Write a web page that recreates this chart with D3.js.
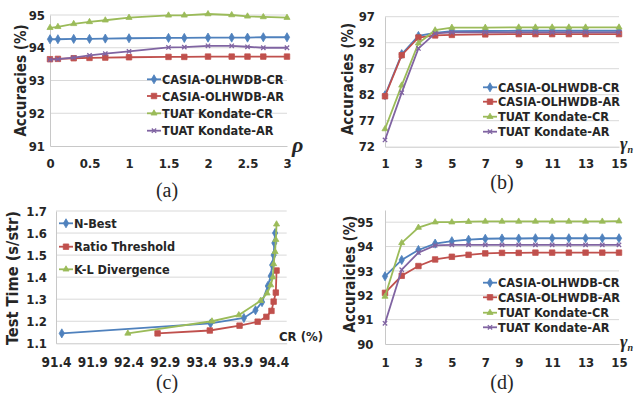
<!DOCTYPE html>
<html>
<head>
<meta charset="utf-8">
<script src="https://cdn.jsdelivr.net/npm/d3@7"></script>
<style>
body { margin: 0; background: #fff; }
svg { display: block; }
text { font-family: "Liberation Sans Narrow", "Arial Narrow", "DejaVu Sans Condensed", sans-serif; font-weight: bold; fill: #262626; }
text.cap { font-family: "Liberation Serif", "Times New Roman", serif; font-weight: normal; }
text.sym { font-family: "Liberation Serif", "Times New Roman", serif; font-style: italic; font-weight: bold; }
</style>
</head>
<body>
<svg width="635" height="393"></svg>
<script>
const seriesNames = ["CASIA-OLHWDB-CR", "CASIA-OLHWDB-AR", "TUAT Kondate-CR", "TUAT Kondate-AR"];

// (a) accuracy vs rho
const rho = [0, 0.1, 0.3, 0.5, 0.7, 1, 1.5, 1.7, 2, 2.3, 2.5, 2.7, 3];
const aCasiaCR = [94.26, 94.26, 94.27, 94.27, 94.28, 94.29, 94.30, 94.30, 94.31, 94.31, 94.31, 94.32, 94.32];
const aCasiaAR = [93.65, 93.66, 93.68, 93.69, 93.70, 93.71, 93.72, 93.72, 93.73, 93.73, 93.73, 93.73, 93.73];
const aTuatCR = [94.61, 94.64, 94.73, 94.79, 94.84, 94.92, 94.99, 94.99, 95.03, 95.00, 94.96, 94.94, 94.92];
const aTuatAR = [93.64, 93.65, 93.70, 93.77, 93.82, 93.89, 94.01, 94.02, 94.06, 94.06, 94.03, 94.00, 94.00];
const aXTicks = [0, 0.5, 1, 1.5, 2, 2.5, 3];
const aYTicks = [91, 92, 93, 94, 95];

// (b) accuracy vs gamma_n
const bX = [1, 2, 3, 4, 5, 7, 9, 10, 11, 12, 13, 15];
const bCasiaCR = [81.9, 89.8, 93.3, 93.9, 94.2, 94.25, 94.3, 94.3, 94.3, 94.3, 94.3, 94.3];
const bCasiaAR = [81.7, 89.6, 93.0, 93.4, 93.5, 93.6, 93.65, 93.65, 93.65, 93.65, 93.65, 93.65];
const bTuatCR = [75.4, 83.8, 91.9, 94.4, 94.9, 94.9, 94.95, 94.95, 94.95, 94.95, 94.95, 94.95];
const bTuatAR = [73.3, 82.4, 90.9, 93.8, 94.0, 94.0, 94.0, 94.0, 94.0, 94.0, 94.0, 94.0];
const gXTicks = [1, 3, 5, 7, 9, 11, 13, 15];
const bYTicks = [72, 77, 82, 87, 92, 97];

// (c) test time vs CR
const nBestCR = [91.48, 93.53, 93.99, 94.15, 94.24, 94.32, 94.36, 94.38, 94.40, 94.41, 94.42];
const nBestTime = [1.145, 1.19, 1.215, 1.25, 1.287, 1.36, 1.405, 1.455, 1.50, 1.555, 1.60];
const ratioCR = [92.80, 93.52, 93.93, 94.18, 94.30, 94.37, 94.40, 94.43, 94.44];
const ratioTime = [1.145, 1.158, 1.18, 1.198, 1.22, 1.247, 1.289, 1.33, 1.43];
const klCR = [92.39, 93.55, 93.92, 94.22, 94.31, 94.36, 94.39, 94.40, 94.42, 94.43, 94.44];
const klTime = [1.145, 1.20, 1.228, 1.293, 1.327, 1.364, 1.40, 1.46, 1.515, 1.57, 1.64];
const cNames = ["N-Best", "Ratio Threshold", "K-L Divergence"];
const cXTicks = [91.4, 91.9, 92.4, 92.9, 93.4, 93.9, 94.4];
const cYTicks = [1.1, 1.2, 1.3, 1.4, 1.5, 1.6, 1.7];

// (d) accuracy vs gamma_n
const dX = [1, 2, 3, 4, 5, 6, 7, 8, 9, 10, 11, 12, 13, 14, 15];
const dCasiaCR = [92.78, 93.45, 93.86, 94.12, 94.22, 94.28, 94.32, 94.33, 94.33, 94.34, 94.34, 94.34, 94.34, 94.34, 94.34];
const dCasiaAR = [92.10, 92.80, 93.20, 93.47, 93.58, 93.66, 93.72, 93.74, 93.74, 93.75, 93.75, 93.75, 93.75, 93.75, 93.75];
const dTuatCR = [91.95, 94.15, 94.78, 95.00, 95.00, 95.02, 95.03, 95.03, 95.03, 95.03, 95.03, 95.03, 95.03, 95.03, 95.04];
const dTuatAR = [90.85, 93.05, 93.75, 94.05, 94.07, 94.07, 94.07, 94.07, 94.07, 94.07, 94.07, 94.07, 94.07, 94.07, 94.07];
const dYTicks = [90, 91, 92, 93, 94, 95];

const colors = ["#4f81bd", "#c0504d", "#9bbb59", "#8064a2"];
const shapes = [d3.symbolDiamond, d3.symbolSquare, d3.symbolTriangle, d3.symbolTimes];
const shapeSize = [24, 30, 16, 14];

const svg = d3.select('svg');

function marker(sel, i) {
    const isStroke = i === 3;
    sel.attr('d', d3.symbol().type(shapes[i]).size(shapeSize[i]))
        .attr('fill', isStroke ? 'none' : colors[i])
        .attr('stroke', colors[i])
        .attr('stroke-width', isStroke ? 1.3 : 0.8);
}

function drawPanel(p) {
    const x = d3.scaleLinear().domain(p.xDomain).range(p.xRange);
    const y = d3.scaleLinear().domain(p.yDomain).range(p.yRange);
    const g = svg.append('g');

    g.selectAll('.grid')
        .data(p.yTicks.slice(1))
        .enter()
        .append('line')
        .attr('x1', p.xRange[0])
        .attr('x2', p.xRange[1])
        .attr('y1', d => y(d))
        .attr('y2', d => y(d))
        .attr('stroke', '#d9d9d9')
        .attr('stroke-width', 1);

    const ax = g.append('g')
        .attr('transform', 'translate(' + p.xRange[0] + ',0)')
        .call(d3.axisLeft(y).tickValues(p.yTicks).tickSize(0).tickPadding(p.yPad).tickFormat(p.yFormat))
        .attr('font-size', 13);
    ax.select('.domain').attr('stroke', '#c8c8c8');

    const bx = g.append('g')
        .attr('transform', 'translate(0,' + p.yRange[0] + ')')
        .call(d3.axisBottom(x).tickValues(p.xTicks).tickSize(0).tickPadding(p.xPad).tickFormat(p.xFormat))
        .attr('font-size', p.xFont || 13);
    bx.select('.domain').attr('stroke', '#c8c8c8');

    p.series.forEach((s, i) => {
        const pts = s.x.map((v, j) => [v, s.y[j]]);
        g.append('path')
            .datum(pts)
            .attr('fill', 'none')
            .attr('stroke', colors[i])
            .attr('stroke-width', 1.8)
            .attr('d', d3.line().x(d => x(d[0])).y(d => y(d[1])));
        g.selectAll('.m' + i)
            .data(pts)
            .enter()
            .append('path')
            .attr('transform', d => 'translate(' + x(d[0]) + ',' + y(d[1]) + ')')
            .call(marker, i);
    });

    const leg = g.selectAll('.leg')
        .data(p.names)
        .enter()
        .append('g')
        .attr('transform', (d, i) => 'translate(' + p.legX + ',' + p.legY[i] + ')');
    leg.append('line')
        .attr('x1', 0).attr('x2', 14)
        .attr('stroke', (d, i) => colors[i])
        .attr('stroke-width', 1.8);
    leg.append('path')
        .attr('transform', 'translate(7,0)')
        .each(function (d, i) { d3.select(this).call(marker, i); });
    leg.append('text')
        .attr('x', 15)
        .attr('dy', '0.36em')
        .attr('font-size', 12.6)
        .text(d => d);

    const t = g.append('text')
        .attr('transform', 'translate(' + p.titleX + ',' + p.titleY + ') rotate(-90)')
        .attr('text-anchor', 'middle')
        .attr('dy', '0.35em')
        .attr('font-size', 15)
        .text(p.title);
    if (p.titleLen) t.attr('textLength', p.titleLen).attr('lengthAdjust', 'spacingAndGlyphs');

    g.append('text')
        .attr('class', 'cap')
        .attr('x', p.capX)
        .attr('y', p.capY)
        .attr('text-anchor', 'middle')
        .attr('font-size', 20)
        .text(p.cap);
}

function zip(xs, ys) { return { x: xs, y: ys }; }

drawPanel({
    xDomain: [0, 3], xRange: [50, 287],
    yDomain: [91, 95], yRange: [146, 15],
    xTicks: aXTicks, yTicks: aYTicks, yPad: 5, xPad: 12.7,
    xFormat: d => String(d), yFormat: d3.format('d'),
    series: [zip(rho, aCasiaCR), zip(rho, aCasiaAR), zip(rho, aTuatCR), zip(rho, aTuatAR)],
    names: seriesNames, legX: 147, legY: [79.3, 96, 113.3, 130.7],
    title: 'Accuracies (%)', titleX: 21, titleY: 80.5,
    cap: '(a)', capX: 167, capY: 197
});

drawPanel({
    xDomain: [1, 15], xRange: [385, 619],
    yDomain: [72, 97], yRange: [146.7, 16.7],
    xTicks: gXTicks, yTicks: bYTicks, yPad: 10, xPad: 12.2,
    xFormat: d3.format('d'), yFormat: d3.format('d'),
    series: [zip(bX, bCasiaCR), zip(bX, bCasiaAR), zip(bX, bTuatCR), zip(bX, bTuatAR)],
    names: seriesNames, legX: 483, legY: [87.3, 101.7, 116.7, 131.7],
    title: 'Accuracies (%)', titleX: 348, titleY: 79,
    cap: '(b)', capX: 502, capY: 189
});

drawPanel({
    xDomain: [91.4, 94.58], xRange: [56, 286.7],
    yDomain: [1.1, 1.7], yRange: [343.3, 211],
    xTicks: cXTicks, yTicks: cYTicks, yPad: 9, xPad: 14, xFont: 13.5,
    xFormat: d3.format('.1f'), yFormat: d3.format('.1f'),
    series: [zip(nBestCR, nBestTime), zip(ratioCR, ratioTime), zip(klCR, klTime)],
    names: cNames, legX: 59, legY: [223.3, 246.7, 269.3],
    title: 'Test Time (s/str)', titleX: 13, titleY: 278, titleLen: 134,
    cap: '(c)', capX: 167, capY: 389
});

drawPanel({
    xDomain: [1, 15], xRange: [385, 619],
    yDomain: [90, 95.5], yRange: [344, 210],
    xTicks: gXTicks, yTicks: dYTicks, yPad: 11.5, xPad: 13.7,
    xFormat: d3.format('d'), yFormat: d3.format('d'),
    series: [zip(dX, dCasiaCR), zip(dX, dCasiaAR), zip(dX, dTuatCR), zip(dX, dTuatAR)],
    names: seriesNames, legX: 483, legY: [282.7, 297.3, 312.7, 327.3],
    title: 'Accuraicies (%)', titleX: 350, titleY: 274,
    cap: '(d)', capX: 502, capY: 389
});

// axis symbols
svg.append('text').attr('class', 'sym').attr('x', 292).attr('y', 152).attr('font-size', 22).text('ρ');
[150, 348].forEach(yy => {
    const s = svg.append('text').attr('class', 'sym').attr('x', 620).attr('y', yy).attr('font-size', 18);
    s.append('tspan').text('γ');
    s.append('tspan').attr('font-size', 10).attr('dy', 3).text('n');
});
svg.append('text').attr('x', 279).attr('y', 341).attr('font-size', 13).text('CR (%)');
</script>
</body>
</html>
